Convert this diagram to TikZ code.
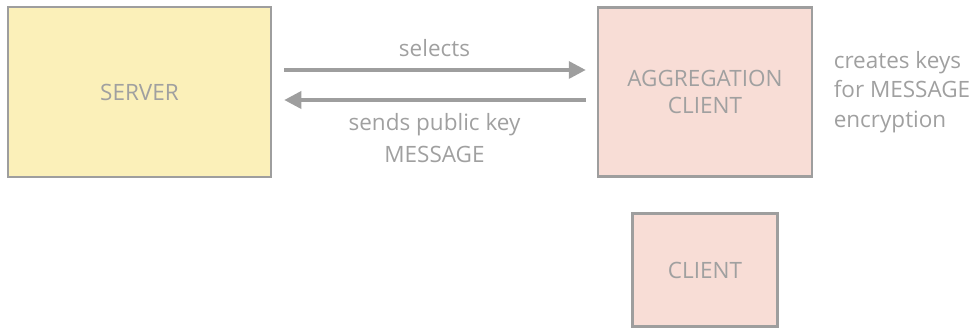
\documentclass[tikz,border=0pt]{standalone}
\usepackage{fontspec}
\setmainfont{Open Sans}
\usepackage{tikz}
\usetikzlibrary{arrows.meta, positioning}
\definecolor{boxline}{HTML}{9E9E9E}
\definecolor{txtgray}{HTML}{A0A0A0}
\definecolor{srvfill}{HTML}{FBF0B9}
\definecolor{clifill}{HTML}{F8DDD6}

\begin{document}
\begin{tikzpicture}[x=1pt,y=-1pt,node distance=2cm,on grid,
    box/.style={draw=boxline,line width=2.5pt,text=txtgray,align=center,
      font=\fontsize{22.5}{27}\selectfont,inner sep=0pt},
    flow/.style={draw=boxline,line width=3.5pt,-{Triangle[length=17pt,width=17pt]}},
    note/.style={text=txtgray,font=\fontsize{22.5}{29.5}\selectfont,align=center}]
    \useasboundingbox (0,0) rectangle (977,328);

      \node[box,fill=srvfill,minimum width=263pt,minimum height=170pt] (server) at (139.5,92) {SERVER};
      \node[box,fill=clifill,minimum width=214pt,minimum height=169pt] (agg) [right=565.5pt of server] {AGGREGATION\\CLIENT};
      \node[box,fill=clifill,minimum width=145pt,minimum height=113pt] (client) [below=178pt of agg] {CLIENT};

      \node[note,align=left,anchor=west] (keys) at ([xshift=17pt]agg.east) {creates keys\\for MESSAGE\\encryption};

      \draw[flow,shorten <=12pt,shorten >=11pt] ([yshift=22pt]server.east) -- node[note,above=8pt] (sel) {selects} ([yshift=22pt]agg.west);
      \draw[flow,shorten <=11pt,shorten >=12pt] ([yshift=-8pt]agg.west) -- node[note,below=8pt,font=\fontsize{22.5}{32}\selectfont] (pub) {sends public key\\MESSAGE} ([yshift=-8pt]server.east);
    \end{tikzpicture}
\end{document}
